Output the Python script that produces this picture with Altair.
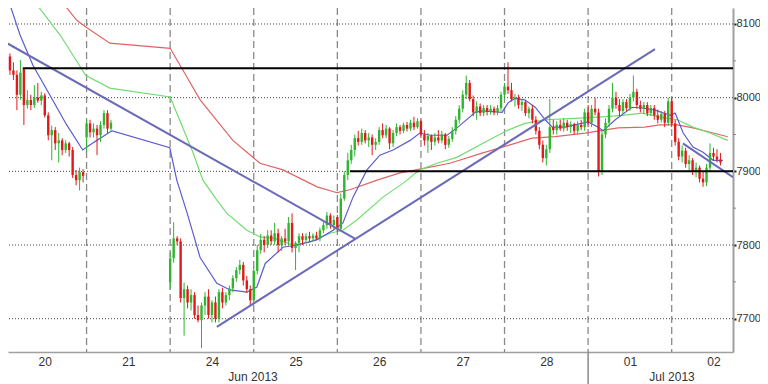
import json
import altair as alt
import pandas as pd

FONT = "Liberation Sans"

# ---- axis / category data ----
DAY_LABELS = ["20", "21", "24", "25", "26", "27", "28", "01", "02"]
DAY_STARTS = [0, 24, 48, 72, 96, 120, 144, 168, 192]   # hour index of each day start
MONTH_LABELS = ["Jun 2013", "Jul 2013"]
MONTH_POS = [71.8, 192.1]
MONTH_BREAK = [168]
Y_TICKS = [7700, 7800, 7900, 8000, 8100]
Y_MINOR = [7750, 7850, 7950, 8050]

# ---- hourly candles (hour index, open, high, low, close) ----
HOURS = list(range(0, 32)) + list(range(48, 207))

OPEN_D20 = [8062, 8051, 8056, 8037, 8031, 8004, 8040, 7990, 7997, 7990, 8000, 7996,
            8003, 7976, 7949, 7956, 7938, 7942, 7929, 7938, 7929, 7895, 7888, 7899]
HIGH_D20 = [8078, 8065, 8060, 8048, 8037, 8051, 8040, 8010, 8004, 8017, 8020, 8008,
            8006, 7980, 7962, 7960, 7952, 7945, 7942, 7940, 7933, 7902, 7905, 7903]
LOW_D20 = [8048, 8044, 8031, 8024, 7983, 7997, 7963, 7985, 7983, 7986, 7993, 7990,
           7973, 7942, 7915, 7929, 7912, 7922, 7925, 7920, 7891, 7881, 7874, 7885]
CLOSE_D20 = [8051, 8056, 8037, 8031, 8004, 8034, 7990, 7997, 7990, 8000, 7996, 8003,
             7976, 7949, 7956, 7938, 7942, 7929, 7938, 7929, 7895, 7888, 7899, 7894]

OPEN_D21 = [7946, 7965, 7953, 7958, 7949, 7963, 7979, 7958]
HIGH_D21 = [7970, 7970, 7965, 7963, 7968, 7983, 7983, 7970]
LOW_D21 = [7926, 7946, 7946, 7922, 7940, 7958, 7952, 7954]
CLOSE_D21 = [7965, 7953, 7958, 7949, 7963, 7979, 7958, 7966]

OPEN_D24 = [7749, 7782, 7809, 7805, 7728, 7740, 7722, 7732, 7705, 7698, 7718, 7730,
            7705, 7722, 7700, 7736, 7722, 7732, 7741, 7755, 7766, 7773, 7752, 7740]
HIGH_D24 = [7790, 7831, 7812, 7809, 7749, 7745, 7740, 7736, 7718, 7722, 7736, 7740,
            7725, 7730, 7740, 7742, 7736, 7745, 7759, 7770, 7780, 7777, 7758, 7745]
LOW_D24 = [7740, 7776, 7800, 7722, 7677, 7714, 7711, 7700, 7695, 7660, 7705, 7700,
           7695, 7695, 7695, 7714, 7718, 7725, 7736, 7750, 7760, 7745, 7735, 7718]
CLOSE_D24 = [7782, 7809, 7805, 7728, 7740, 7722, 7732, 7705, 7698, 7718, 7730, 7705,
             7722, 7700, 7736, 7722, 7732, 7741, 7755, 7766, 7773, 7752, 7740, 7725]

OPEN_D25 = [7725, 7765, 7793, 7807, 7800, 7813, 7805, 7816, 7800, 7809, 7805, 7830,
            7796, 7803, 7812, 7807, 7812, 7809, 7813, 7809, 7820, 7827, 7840, 7827]
HIGH_D25 = [7770, 7800, 7815, 7812, 7820, 7820, 7830, 7822, 7812, 7822, 7838, 7843,
            7805, 7816, 7816, 7816, 7818, 7816, 7818, 7824, 7831, 7845, 7843, 7840]
LOW_D25 = [7720, 7760, 7788, 7790, 7796, 7800, 7800, 7790, 7792, 7800, 7800, 7790,
           7766, 7790, 7800, 7803, 7805, 7805, 7807, 7805, 7816, 7822, 7822, 7820]
CLOSE_D25 = [7765, 7793, 7807, 7800, 7813, 7805, 7816, 7800, 7809, 7805, 7830, 7796,
             7803, 7812, 7807, 7812, 7809, 7813, 7809, 7820, 7827, 7840, 7827, 7834]

OPEN_D26 = [7838, 7822, 7863, 7895, 7915, 7929, 7945, 7940, 7952, 7942, 7946, 7936,
            7940, 7956, 7949, 7958, 7938, 7952, 7960, 7955, 7963, 7958, 7966, 7960]
HIGH_D26 = [7841, 7870, 7900, 7925, 7936, 7950, 7955, 7958, 7956, 7952, 7950, 7945,
            7960, 7965, 7963, 7960, 7956, 7965, 7963, 7966, 7967, 7970, 7974, 7972]
LOW_D26 = [7818, 7820, 7860, 7888, 7910, 7920, 7935, 7936, 7938, 7933, 7922, 7929,
           7936, 7945, 7945, 7930, 7933, 7948, 7950, 7952, 7954, 7955, 7956, 7958]
CLOSE_D26 = [7822, 7863, 7895, 7915, 7929, 7945, 7940, 7952, 7942, 7946, 7936, 7940,
             7956, 7949, 7958, 7938, 7952, 7960, 7955, 7963, 7958, 7966, 7960, 7968]

OPEN_D27 = [7968, 7950, 7942, 7948, 7940, 7946, 7942, 7950, 7936, 7944, 7955, 7970,
            7985, 8004, 8020, 7998, 7980, 7988, 7979, 7986, 7981, 7985, 7980, 7986]
HIGH_D27 = [7970, 7956, 7952, 7950, 7952, 7956, 7955, 7952, 7948, 7960, 7975, 7990,
            8010, 8030, 8024, 8003, 7995, 7992, 7990, 7990, 7990, 7988, 7990, 8008]
LOW_D27 = [7945, 7935, 7925, 7929, 7935, 7938, 7938, 7930, 7932, 7940, 7950, 7965,
           7980, 7998, 7995, 7975, 7970, 7975, 7975, 7976, 7977, 7976, 7976, 7982]
CLOSE_D27 = [7950, 7942, 7948, 7940, 7946, 7942, 7950, 7936, 7944, 7955, 7970, 7985,
             8004, 8020, 7998, 7980, 7988, 7979, 7986, 7981, 7985, 7980, 7986, 8004]

OPEN_D28 = [8004, 8015, 8010, 7998, 8000, 7990, 7994, 7979, 7985, 7970, 7955, 7936,
            7918, 7930, 7960, 7956, 7963, 7958, 7966, 7960, 7964, 7955, 7963, 7960]
HIGH_D28 = [8020, 8048, 8020, 8005, 8004, 7998, 7996, 7988, 7990, 7975, 7960, 7942,
            7936, 7998, 7970, 7968, 7970, 7972, 7970, 7968, 7966, 7968, 7970, 7985]
LOW_D28 = [8000, 8005, 7995, 7988, 7985, 7982, 7975, 7972, 7965, 7950, 7930, 7912,
           7908, 7925, 7950, 7950, 7955, 7954, 7955, 7952, 7950, 7950, 7956, 7955]
CLOSE_D28 = [8015, 8010, 7998, 8000, 7990, 7994, 7979, 7985, 7970, 7955, 7936, 7918,
             7930, 7960, 7956, 7963, 7958, 7966, 7960, 7964, 7955, 7963, 7960, 7980]

OPEN_D01 = [7980, 7966, 7985, 7980, 7900, 7950, 7966, 7985, 8000, 7990, 7982, 7994,
            7986, 8000, 8008, 7990, 7985, 7990, 7979, 7986, 7976, 7970, 7978, 7966]
HIGH_D01 = [7990, 7990, 8000, 7985, 7955, 7972, 7990, 8020, 8008, 7998, 7998, 7998,
            8005, 8030, 8012, 7996, 7994, 7994, 7990, 7990, 7984, 7982, 7982, 8000]
LOW_D01 = [7960, 7960, 7976, 7893, 7895, 7945, 7960, 7980, 7985, 7975, 7978, 7982,
           7982, 7995, 7985, 7980, 7978, 7975, 7975, 7970, 7965, 7966, 7960, 7962]
CLOSE_D01 = [7966, 7985, 7980, 7900, 7950, 7966, 7985, 8000, 7990, 7982, 7994, 7986,
             8000, 8008, 7990, 7985, 7990, 7979, 7986, 7976, 7970, 7978, 7966, 7995]

OPEN_D02 = [7995, 7965, 7940, 7920, 7928, 7910, 7915, 7900, 7905, 7890, 7885, 7905,
            7925, 7920, 7916]
HIGH_D02 = [8000, 7970, 7945, 7935, 7932, 7922, 7918, 7912, 7908, 7900, 7910, 7938,
            7932, 7930, 7925]
LOW_D02 = [7960, 7935, 7915, 7912, 7905, 7900, 7895, 7892, 7885, 7879, 7880, 7900,
           7915, 7912, 7908]
CLOSE_D02 = [7965, 7940, 7920, 7928, 7910, 7915, 7900, 7905, 7890, 7885, 7905, 7925,
             7920, 7916, 7912]

OPEN = OPEN_D20 + OPEN_D21 + OPEN_D24 + OPEN_D25 + OPEN_D26 + OPEN_D27 + OPEN_D28 + OPEN_D01 + OPEN_D02
HIGH = HIGH_D20 + HIGH_D21 + HIGH_D24 + HIGH_D25 + HIGH_D26 + HIGH_D27 + HIGH_D28 + HIGH_D01 + HIGH_D02
LOW = LOW_D20 + LOW_D21 + LOW_D24 + LOW_D25 + LOW_D26 + LOW_D27 + LOW_D28 + LOW_D01 + LOW_D02
CLOSE = CLOSE_D20 + CLOSE_D21 + CLOSE_D24 + CLOSE_D25 + CLOSE_D26 + CLOSE_D27 + CLOSE_D28 + CLOSE_D01 + CLOSE_D02

# ---- moving averages ----
BLUE_H = [0.6, 4.9, 8.6, 13.4, 18.3, 22.9, 26.3, 30.6, 31.4, 47.9, 49.9, 52.9, 56.6, 61.4,
          65.2, 70.0, 72.9, 75.3, 80.4, 84.4, 90.1, 94.8, 97.6, 100.5, 104.5, 108.2, 112.0,
          116.9, 119.7, 122.6, 127.5, 130.6, 135.6, 137.6, 143.3, 145.0, 147.0, 149.8, 152.8,
          155.7, 157.7, 161.4, 164.2, 168.0, 170.9, 172.3, 175.8, 180.6, 183.5, 187.2, 191.6,
          193.0, 195.3, 198.1, 201.0, 203.9, 206.7]
BLUE_V = [8146, 8085, 8044, 8004, 7963, 7929, 7940, 7953, 7955, 7932, 7888, 7843, 7783, 7748,
          7739, 7736, 7743, 7775, 7797, 7800, 7807, 7820, 7830, 7865, 7902, 7922, 7929,
          7942, 7952, 7949, 7949, 7960, 7980, 7982, 7980, 7993, 7999, 7997, 7987,
          7970, 7960, 7960, 7963, 7967, 7960, 7955, 7970, 7987, 7986, 7983, 7976,
          7979, 7952, 7933, 7926, 7915, 7915]

GREEN_H = [8.6, 16.4, 23.8, 30.7, 48.0, 54.6, 57.4, 61.4, 64.3, 70.0, 73.8, 78.1, 83.3, 88.1,
           93.9, 97.6, 101.6, 109.1, 114.9, 119.7, 124.6, 130.3, 137.8, 145.0, 149.8, 155.7,
           164.2, 172.0, 177.8, 183.5, 190.7, 193.6, 198.1, 203.0, 208.1]
GREEN_V = [8133, 8085, 8030, 8013, 8001, 7925, 7888, 7861, 7843, 7820, 7811, 7809, 7800, 7804,
           7816, 7820, 7834, 7865, 7884, 7902, 7911, 7919, 7938, 7956, 7965, 7970,
           7972, 7974, 7976, 7979, 7972, 7970, 7960, 7952, 7942]

RED_H = [16.4, 21.2, 24.1, 30.7, 48.0, 52.8, 56.6, 66.0, 73.8, 80.4, 90.2, 95.9, 99.6, 107.4,
         114.0, 119.7, 128.3, 137.8, 145.6, 151.9, 158.5, 167.1, 176.6, 184.3, 188.6, 193.6,
         198.1, 203.9, 208.1]
RED_V = [8133, 8105, 8095, 8074, 8067, 8028, 7997, 7942, 7911, 7902, 7879, 7871, 7875, 7888,
         7898, 7903, 7911, 7925, 7936, 7945, 7947, 7952, 7959, 7960, 7963, 7963,
         7959, 7952, 7947]

# ---- drawn trend lines ----
TREND_NAMES = ["down", "down", "up", "up", "short", "short"]
TREND_H = [0.0, 101.3, 61.4, 187.2, 195.2, 209.6]
TREND_V = [8077, 7808, 7689, 8066, 7938, 7892]

LEVEL_V = [8040, 7900]
LEVEL_FROM = [5.7, 99.6]
LEVEL_TO = [209.6, 209.6]

X_DOMAIN = [1.44, 209.6]
Y_DOMAIN = [7654.8, 8121.7]

assert len(HOURS) == len(OPEN) == len(HIGH) == len(LOW) == len(CLOSE)

candles = pd.DataFrame({"h": HOURS, "o": OPEN, "hi": HIGH, "lo": LOW, "c": CLOSE})

day_centers = [s + 12 for s in DAY_STARTS]
label_expr = json.dumps(DAY_LABELS) + "[round((datum.value - 12) / 24)]"

x_axis = alt.Axis(values=day_centers, labelExpr=label_expr, ticks=False, grid=False,
                  domainColor="#a0a0a0", domainWidth=1.5, labelFont=FONT, labelFontSize=12,
                  labelColor="#333333", labelPadding=4, title=None, labelFlush=False)
y_axis = alt.Axis(orient="right", values=Y_TICKS, format="d", grid=False, tickSize=3,
                  tickWidth=2, tickColor="#222222", domainColor="#a0a0a0", domainWidth=2,
                  labelFont=FONT, labelFontSize=11, labelColor="#333333", labelPadding=0,
                  title=None)
xs = alt.Scale(domain=X_DOMAIN, nice=False, zero=False)
ys = alt.Scale(domain=Y_DOMAIN, nice=False, zero=False)


def X(field):
    return alt.X(f"{field}:Q", scale=xs, axis=x_axis)


def Y(field):
    return alt.Y(f"{field}:Q", scale=ys, axis=y_axis)


vgrid = alt.Chart(pd.DataFrame({"h": DAY_STARTS})).mark_rule(
    color="#8a8a8a", strokeDash=[7, 4], strokeWidth=1.3, clip=True
).encode(x=X("h"))

hgrid = alt.Chart(pd.DataFrame({"v": Y_TICKS})).mark_rule(
    color="#444444", strokeDash=[1, 2], strokeWidth=1
).encode(y=Y("v"))


def ma_layer(hs, vs, color):
    return alt.Chart(pd.DataFrame({"h": hs, "v": vs})).mark_line(
        color=color, strokeWidth=1.2, clip=True
    ).encode(x=X("h"), y=Y("v"))


red_ma = ma_layer(RED_H, RED_V, "#e06464")
green_ma = ma_layer(GREEN_H, GREEN_V, "#72dc72")
blue_ma = ma_layer(BLUE_H, BLUE_V, "#5c5cd0")

up_down = alt.condition("datum.c >= datum.o", alt.value("#2fb52f"), alt.value("#e01a1a"))

wicks = alt.Chart(candles).mark_rule(strokeWidth=1, clip=True).encode(
    x=X("h"), y=Y("lo"), y2="hi", color=up_down)
bodies = alt.Chart(candles).mark_rule(strokeWidth=2.4, clip=True).encode(
    x=X("h"), y=Y("o"), y2="c", color=up_down)

trend = alt.Chart(pd.DataFrame({"name": TREND_NAMES, "h": TREND_H, "v": TREND_V})).mark_line(
    color="#6a6ab8", strokeWidth=2, clip=True
).encode(x=X("h"), y=Y("v"), detail="name:N")

levels = alt.Chart(pd.DataFrame({"h": LEVEL_FROM, "h2": LEVEL_TO, "v": LEVEL_V})).mark_rule(
    color="#000000", strokeWidth=2, clip=True
).encode(x=X("h"), x2="h2", y=Y("v"))

month_text = alt.Chart(pd.DataFrame({"h": MONTH_POS, "label": MONTH_LABELS})).mark_text(
    font=FONT, fontSize=12, color="#333333", baseline="middle", align="center"
).encode(x=X("h"), y=alt.value(369), text="label:N")

month_break = alt.Chart(pd.DataFrame({"h": MONTH_BREAK})).mark_rule(
    color="#8a8a8a", strokeWidth=1.5
).encode(x=X("h"), y=alt.value(344), y2=alt.value(376))

minor = alt.Chart(pd.DataFrame({"v": Y_MINOR})).mark_rule(
    color="#888888", strokeWidth=1
).encode(y=Y("v"), x=alt.value(725), x2=alt.value(728))

chart = alt.layer(
    vgrid, hgrid, red_ma, green_ma, blue_ma, wicks, bodies, trend, levels,
    month_break, month_text, minor
).properties(
    width=725, height=344, autosize="none",
    padding={"left": 0, "top": 0, "right": 27, "bottom": 32},
    background="white"
).configure_view(strokeWidth=0)

chart.save("out.html", embed_options={"renderer": "svg", "actions": False})
